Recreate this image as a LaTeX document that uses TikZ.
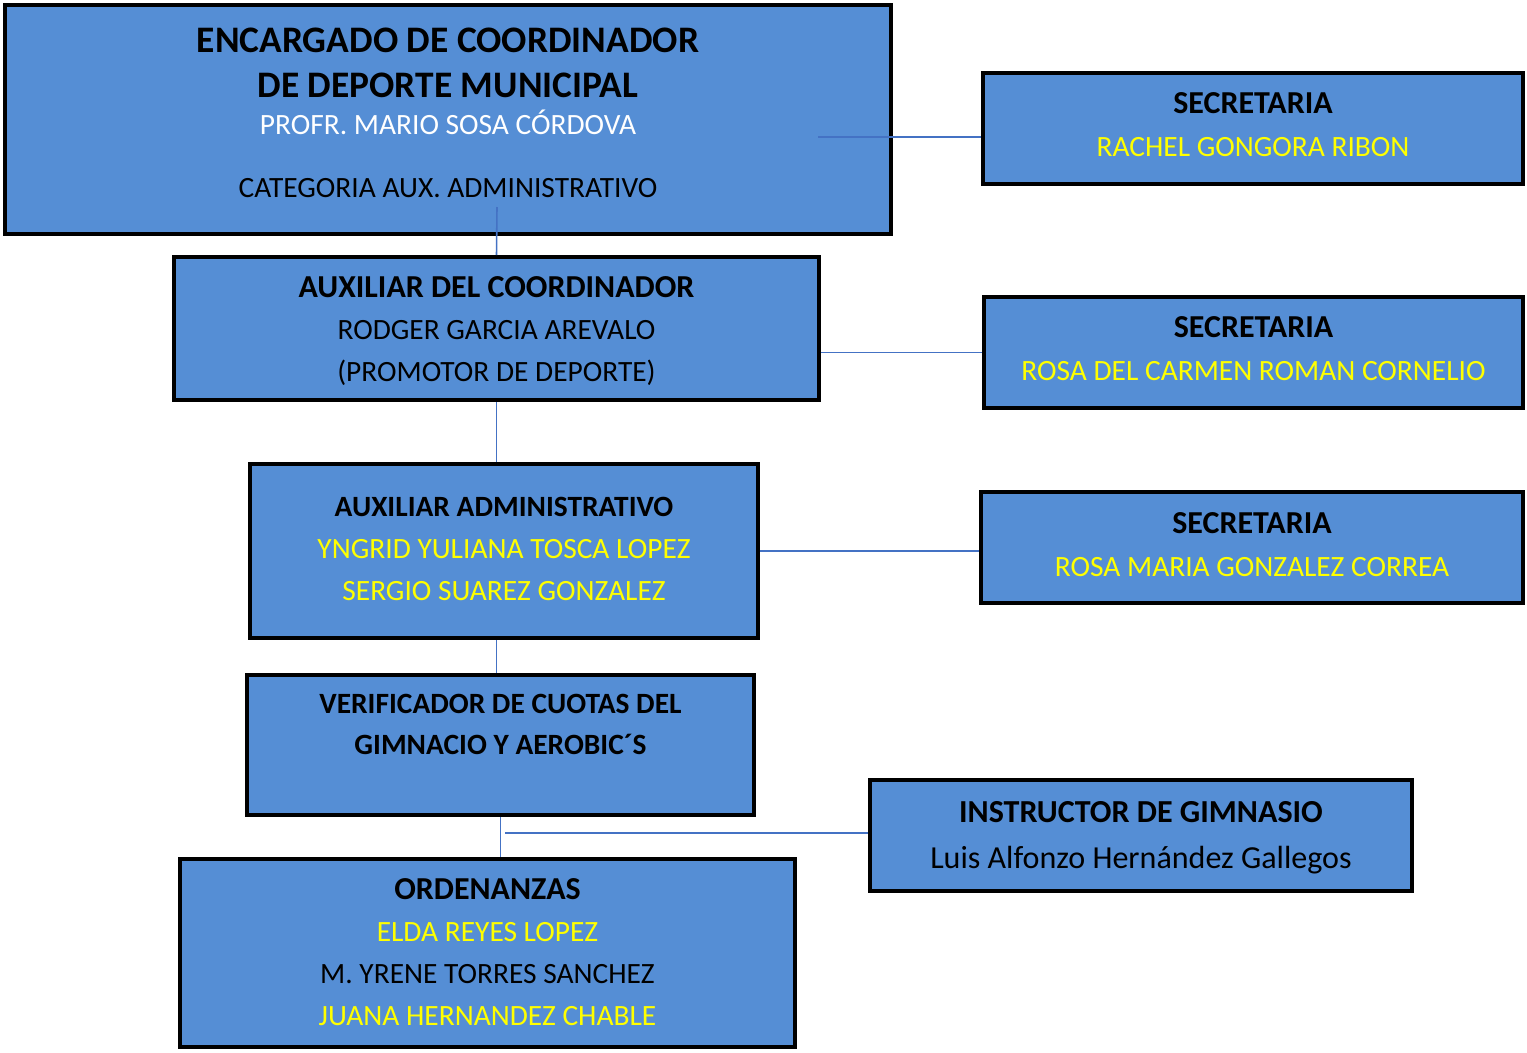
\documentclass[tikz,border=0pt]{standalone}
\usepackage{fontspec}
\setmainfont{Carlito}
\usetikzlibrary{positioning}
\definecolor{boxblue}{RGB}{85,142,213}
\definecolor{linkblue}{RGB}{68,114,196}
\definecolor{nameyellow}{RGB}{255,255,0}
\tikzset{
  cargo/.style={draw=black, line width=2.3pt, fill=boxblue, align=center,
    inner sep=0pt, text depth=0pt, font=\fontsize{16.75}{23.8}\selectfont},
  enlace/.style={draw=linkblue, line width=0.9pt},
}
\newcommand{\amarillo}[1]{\textcolor{nameyellow}{#1}}
\newcommand{\cabeza}[1]{{\fontsize{18.2}{23.8}\selectfont\bfseries #1}}

\begin{document}
\begin{tikzpicture}[x=0.02cm, y=-0.02cm]
\useasboundingbox (0,0) rectangle (1527,1052);

% coordinador y secretarias
\node[cargo, minimum width=17.72cm, minimum height=4.58cm, text height=3.112cm,
  font=\fontsize{16.75}{21.3}\selectfont] (coord) at (448,119.5)
  {{\fontsize{21.3}{25}\selectfont\bfseries ENCARGADO DE COORDINADOR}\\[4.2pt]
   {\fontsize{21.3}{25}\selectfont\bfseries DE DEPORTE MUNICIPAL}\\
   \textcolor{white}{PROFR. MARIO SOSA CÓRDOVA}\\[14.4pt]
   CATEGORIA AUX. ADMINISTRATIVO};
\node[cargo, minimum width=10.8cm, minimum height=2.22cm, text height=1.112cm,
  font=\fontsize{16.75}{24.4}\selectfont] (sec1) at (1253,128.5)
  {\cabeza{SECRETARIA}\\ \amarillo{RACHEL GONGORA RIBON}};

\node[cargo, minimum width=12.9cm, minimum height=2.86cm, text height=2.112cm]
  (aux) at (496.5,328.5)
  {\cabeza{AUXILIAR DEL COORDINADOR}\\ RODGER GARCIA AREVALO\\ (PROMOTOR DE DEPORTE)};
\node[cargo, minimum width=10.78cm, minimum height=2.22cm, text height=1.112cm,
  font=\fontsize{16.75}{24.4}\selectfont] (sec2) at (1253.5,352.5)
  {\cabeza{SECRETARIA}\\ \amarillo{ROSA DEL CARMEN ROMAN CORNELIO}};

\node[cargo, minimum width=10.16cm, minimum height=3.48cm, text height=1.972cm]
  (admin) at (504,551)
  {\textbf{AUXILIAR ADMINISTRATIVO}\\ \amarillo{YNGRID YULIANA TOSCA LOPEZ}\\
   \amarillo{SERGIO SUAREZ GONZALEZ}};
\node[cargo, minimum width=10.84cm, minimum height=2.22cm, text height=1.152cm,
  font=\fontsize{16.75}{24.4}\selectfont] (sec3) at (1252,547.5)
  {\cabeza{SECRETARIA}\\ \amarillo{ROSA MARIA GONZALEZ CORREA}};

\node[cargo, minimum width=10.14cm, minimum height=2.8cm, text height=0.372cm,
  font=\fontsize{16.75}{23.3}\selectfont] (verif) at (500.5,745)
  {\textbf{VERIFICADOR DE CUOTAS DEL}\\ \textbf{GIMNACIO Y AEROBIC´S}};
\node[cargo, minimum width=10.84cm, minimum height=2.22cm, text height=1.308cm,
  font=\fontsize{18.25}{26}\selectfont] (instr) at (1141,835.5)
  {\textbf{INSTRUCTOR DE GIMNASIO}\\ Luis Alfonzo Hernández Gallegos};

\node[cargo, minimum width=12.3cm, minimum height=3.76cm, text height=2.892cm]
  (orden) at (487.5,953)
  {\cabeza{ORDENANZAS}\\ \amarillo{ELDA REYES LOPEZ}\\ M. YRENE TORRES SANCHEZ\\
   \amarillo{JUANA HERNANDEZ CHABLE}};

% lineas
\coordinate (c1) at (497,207);
\coordinate (c2) at (818,137);
\coordinate (c3) at (505,833);
\draw[enlace] (c1) -- (aux.north);
\draw[enlace] (c2) -- (c2 -| sec1.west);
\draw[enlace] (sec2.west -| aux.east) -- (sec2.west);
\draw[enlace] (aux.south) -- (aux.south |- admin.north);
\draw[enlace] (admin.east) -- (admin.east -| sec3.west);
\draw[enlace] (admin.south -| aux.south) -- (verif.north -| aux.south);
\draw[enlace] (verif.south) -- (verif.south |- orden.north);
\draw[enlace] (c3) -- (c3 -| instr.west);
\end{tikzpicture}
\end{document}
